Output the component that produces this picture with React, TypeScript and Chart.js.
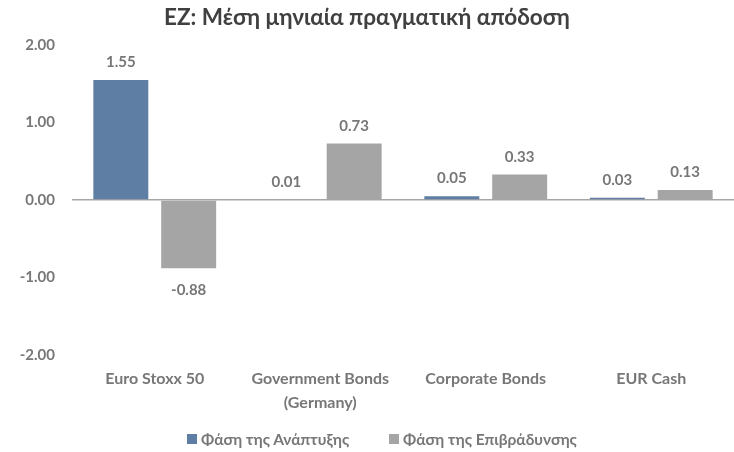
import React, { useEffect, useRef } from "react";
import { Chart, registerables } from "chart.js";

Chart.register(...registerables);

const TITLE = "EZ: Μέση μηνιαία πραγματική απόδοση";
const CATEGORIES: (string | string[])[] = [
  "Euro Stoxx 50",
  ["Government Bonds", "(Germany)"],
  "Corporate Bonds",
  "EUR Cash",
];
const SERIES_NAMES = ["Φάση της Ανάπτυξης", "Φάση της Επιβράδυνσης"];
const GROWTH = [1.55, 0.01, 0.05, 0.03];
const SLOWDOWN = [-0.88, 0.73, 0.33, 0.13];
const Y_MIN = -2;
const Y_MAX = 2;
const Y_STEP = 1;

const BLUE = "#5f7ea3";
const GRAY = "#a5a5a5";
const COLORS = [BLUE, GRAY];
const TEXT = "#777777";
const FONT = "Lato, 'Open Sans', sans-serif";

const valueLabels = {
  id: "valueLabels",
  afterDatasetsDraw(chart: any) {
    const ctx = chart.ctx;
    ctx.save();
    ctx.font = `bold 15px ${FONT}`;
    ctx.fillStyle = TEXT;
    ctx.textAlign = "center";
    ctx.textBaseline = "middle";
    chart.data.datasets.forEach((ds: any, i: number) => {
      const meta = chart.getDatasetMeta(i);
      meta.data.forEach((bar: any, j: number) => {
        const v = ds.data[j] as number;
        const txt = v.toFixed(2);
        if (v >= 0) ctx.fillText(txt, bar.x, bar.y - 17.5);
        else ctx.fillText(txt, bar.x, bar.y + 22);
      });
    });
    ctx.restore();
  },
};

export default function App() {
  const ref = useRef<HTMLCanvasElement | null>(null);
  useEffect(() => {
    if (!ref.current) return;
    const chart = new Chart(ref.current, {
      type: "bar",
      data: {
        labels: CATEGORIES as any,
        datasets: [
          {
            label: SERIES_NAMES[0],
            data: GROWTH,
            backgroundColor: BLUE,
            categoryPercentage: 0.82,
            barPercentage: 0.81,
          },
          {
            label: SERIES_NAMES[1],
            data: SLOWDOWN,
            backgroundColor: GRAY,
            categoryPercentage: 0.82,
            barPercentage: 0.81,
          },
        ],
      },
      plugins: [valueLabels],
      options: {
        animation: false,
        responsive: false,
        maintainAspectRatio: false,
        layout: { padding: { top: 0, right: 0, bottom: 0, left: 0 } },
        plugins: {
          title: {
            display: true,
            text: TITLE,
            color: "#404040",
            font: { family: FONT, size: 22.5, weight: "bold", lineHeight: 1.2 },
            padding: { top: 4.5, bottom: 13.5 },
          },
          legend: { display: false },
          tooltip: { enabled: false },
        },
        scales: {
          x: {
            grid: { display: false, drawTicks: false },
            border: { display: false },
            ticks: {
              color: TEXT,
              font: { family: FONT, size: 16, weight: "bold", lineHeight: 1.5 },
              maxRotation: 0,
              padding: 12,
            },
            afterFit: (s: any) => {
              s.height = 97;
            },
          },
          y: {
            min: Y_MIN,
            max: Y_MAX,
            border: { display: false },
            grid: {
              drawTicks: false,
              color: (c: any) => (c.tick && c.tick.value === 0 ? "#a6a6a6" : "rgba(0,0,0,0)"),
              lineWidth: 1.5,
            },
            ticks: {
              stepSize: Y_STEP,
              color: TEXT,
              font: { family: FONT, size: 15, weight: "bold" },
              padding: 17,
              callback: (v: any) => Number(v).toFixed(2),
            },
            afterFit: (s: any) => {
              s.width = 72;
            },
          },
        },
      },
    });
    return () => chart.destroy();
  }, []);

  const legendLefts = [187, 389];
  return (
    <div style={{ position: "absolute", left: 0, top: 0, width: 734, height: 452, background: "#fff", overflow: "hidden" }}>
      <canvas ref={ref} width={734} height={452} style={{ display: "block" }} />
      {SERIES_NAMES.map((name, i) => (
        <div
          key={name}
          style={{
            position: "absolute",
            left: legendLefts[i],
            top: 429,
            height: 20,
            display: "flex",
            alignItems: "center",
            whiteSpace: "nowrap",
            fontFamily: FONT,
            fontWeight: "bold",
            fontSize: 15.5,
            color: TEXT,
          }}
        >
          <span style={{ display: "inline-block", width: 10, height: 10, background: COLORS[i], marginRight: 4 }} />
          <span>{name}</span>
        </div>
      ))}
    </div>
  );
}
